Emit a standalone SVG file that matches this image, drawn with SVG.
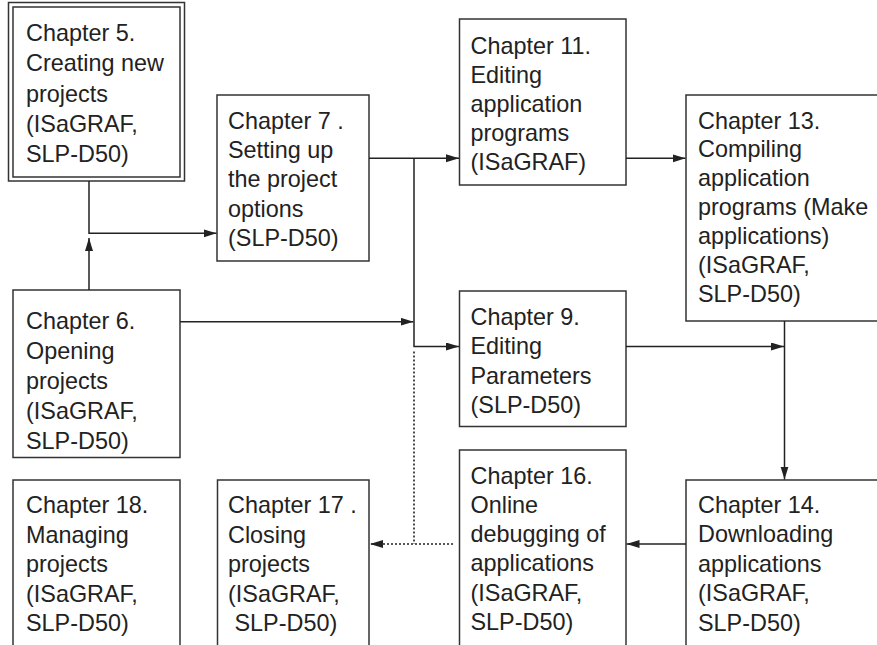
<svg xmlns="http://www.w3.org/2000/svg" width="877" height="645" viewBox="0 0 877 645">
<style>
.box{fill:#fff;stroke:#333;stroke-width:1.5}
.t{font-family:"Liberation Sans",Arial,Helvetica,sans-serif;font-size:23.4px;fill:#222}
.c{fill:none;stroke:#222;stroke-width:1.5}
.d{fill:none;stroke:#222;stroke-width:1.6;stroke-dasharray:2 2}
</style>
<defs>
<marker id="ah" markerUnits="userSpaceOnUse" markerWidth="14" markerHeight="9" refX="13" refY="4" orient="auto">
<path d="M0,0 L13,4 L0,8 z" fill="#222"/>
</marker>
</defs>
<rect width="877" height="645" fill="#fff"/>
<g id="n5">
<rect class="box" x="8.5" y="2.5" width="176" height="178.5"/>
<rect class="box" x="13" y="7" width="167" height="170"/>
<text class="t" x="26"><tspan x="26" y="41">Chapter 5.</tspan><tspan x="26" y="71.3">Creating new</tspan><tspan x="26" y="101.5">projects</tspan><tspan x="26" y="131.8">(ISaGRAF,</tspan><tspan x="26" y="162">SLP-D50)</tspan></text>
</g>
<g id="n7">
<rect class="box" x="217" y="95" width="152" height="166"/>
<text class="t"><tspan x="228" y="129">Chapter 7 .</tspan><tspan x="228" y="158.2">Setting up</tspan><tspan x="228" y="187.4">the project</tspan><tspan x="228" y="216.6">options</tspan><tspan x="228" y="245.8">(SLP-D50)</tspan></text>
</g>
<g id="n11">
<rect class="box" x="459.5" y="19" width="166.5" height="166"/>
<text class="t"><tspan x="470.5" y="54">Chapter 11.</tspan><tspan x="470.5" y="83">Editing</tspan><tspan x="470.5" y="112">application</tspan><tspan x="470.5" y="141">programs</tspan><tspan x="470.5" y="170">(ISaGRAF)</tspan></text>
</g>
<g id="n13">
<rect class="box" x="686" y="95" width="220" height="226"/>
<text class="t"><tspan x="698" y="128.5">Chapter 13.</tspan><tspan x="698" y="157.4">Compiling</tspan><tspan x="698" y="186.3">application</tspan><tspan x="698" y="215.2">programs (Make</tspan><tspan x="698" y="244.1">applications)</tspan><tspan x="698" y="273">(ISaGRAF,</tspan><tspan x="698" y="301.9">SLP-D50)</tspan></text>
</g>
<g id="n6">
<rect class="box" x="13" y="290" width="167" height="167.5"/>
<text class="t"><tspan x="26" y="329">Chapter 6.</tspan><tspan x="26" y="359">Opening</tspan><tspan x="26" y="389">projects</tspan><tspan x="26" y="419">(ISaGRAF,</tspan><tspan x="26" y="449">SLP-D50)</tspan></text>
</g>
<g id="n9">
<rect class="box" x="459.5" y="291" width="166.5" height="135.5"/>
<text class="t"><tspan x="470.5" y="325">Chapter 9.</tspan><tspan x="470.5" y="354.3">Editing</tspan><tspan x="470.5" y="383.6">Parameters</tspan><tspan x="470.5" y="412.9">(SLP-D50)</tspan></text>
</g>
<g id="n18">
<rect class="box" x="13" y="480" width="167" height="190"/>
<text class="t"><tspan x="26" y="513">Chapter 18.</tspan><tspan x="26" y="542.5">Managing</tspan><tspan x="26" y="572">projects</tspan><tspan x="26" y="601.5">(ISaGRAF,</tspan><tspan x="26" y="631">SLP-D50)</tspan></text>
</g>
<g id="n17">
<rect class="box" x="217.5" y="480" width="151.5" height="190"/>
<text class="t" xml:space="preserve" style="white-space:pre"><tspan x="228" y="513">Chapter 17 .</tspan><tspan x="228" y="542.5">Closing</tspan><tspan x="228" y="572">projects</tspan><tspan x="228" y="601.5">(ISaGRAF,</tspan><tspan x="228" y="631"> SLP-D50)</tspan></text>
</g>
<g id="n16">
<rect class="box" x="459.5" y="450" width="166.5" height="220"/>
<text class="t"><tspan x="470.5" y="483.5">Chapter 16.</tspan><tspan x="470.5" y="512.8">Online</tspan><tspan x="470.5" y="542.1">debugging of</tspan><tspan x="470.5" y="571.4">applications</tspan><tspan x="470.5" y="600.7">(ISaGRAF,</tspan><tspan x="470.5" y="630">SLP-D50)</tspan></text>
</g>
<g id="n14">
<rect class="box" x="686" y="480" width="220" height="190"/>
<text class="t"><tspan x="698" y="512.5">Chapter 14.</tspan><tspan x="698" y="542">Downloading</tspan><tspan x="698" y="571.5">applications</tspan><tspan x="698" y="601">(ISaGRAF,</tspan><tspan x="698" y="630.5">SLP-D50)</tspan></text>
</g>
<g id="connectors">
<path class="c" d="M89,181 V233.3 H216.5" marker-end="url(#ah)"/>
<path class="c" d="M89,290 V238" marker-end="url(#ah)"/>
<path class="c" d="M369,158.3 H459" marker-end="url(#ah)"/>
<path class="c" d="M414,158.3 V346.5 H459" marker-end="url(#ah)"/>
<path class="c" d="M180,321.7 H413.5" marker-end="url(#ah)"/>
<path class="c" d="M626,158.3 H685.5" marker-end="url(#ah)"/>
<path class="c" d="M626,346.5 H784" marker-end="url(#ah)"/>
<path class="c" d="M784.5,321 V479.5" marker-end="url(#ah)"/>
<path class="c" d="M686,544 H626.5" marker-end="url(#ah)"/>
<path class="d" d="M414,351.5 V544"/>
<path class="d" d="M453,544 H370" marker-end="url(#ah)"/>
</g>
</svg>
